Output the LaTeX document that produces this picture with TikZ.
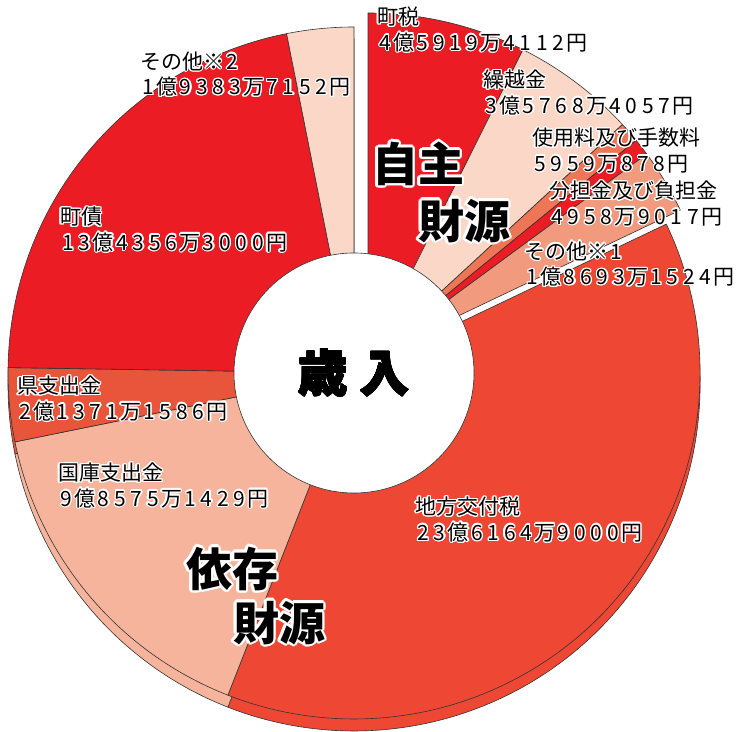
\documentclass[tikz,border=0pt]{standalone}
\usepackage{fontspec}
\usepackage{contour}
\newfontfamily\jp{Noto Sans CJK JP}
\newfontfamily\jpbig{Noto Sans CJK JP}
\contourlength{1.3pt}
\newlength\digitw
\setlength\digitw{16.4pt}
\makeatletter
\def\digitone#1{\in@{#1}{0123456789}\ifin@\makebox[\digitw]{#1}\else#1\fi}
\makeatother
\def\digitstep#1{\ifx#1\relax\else\digitone{#1}\expandafter\digitstep\fi}
\protected\def\digitrun#1{\digitstep#1\relax}
\newcommand\twolines[2]{\contour{white}{\digitrun{#1}}\\\contour{white}{\digitrun{#2}}}
\definecolor{zeired}{HTML}{EC1C24}
\definecolor{peach}{HTML}{FBD7C7}
\definecolor{feeorange}{HTML}{EC7656}
\definecolor{othersalmon}{HTML}{F29A7E}
\definecolor{kofured}{HTML}{EE4835}
\definecolor{kokkopink}{HTML}{F6B49D}
\definecolor{kenred}{HTML}{E9553A}

\begin{document}
\begin{tikzpicture}[x=1pt,y=1pt,
        slice/.style={draw=black!80,line width=0.6pt},
        lbl/.style={font=\jp\fontsize{21}{25.5}\selectfont,align=left,anchor=west,inner sep=0pt},
        big/.style={font=\jpbig\bfseries\fontsize{46}{50}\selectfont,inner sep=0pt}]

    \useasboundingbox (0,0) rectangle (736,731);
    \fill[white] (0,0) rectangle (736,731);
    \coordinate (dep) at (354,358);
    \coordinate (own) at (368,372);

    % side of the dependent part
    \foreach \a/\b/\c in {25.495/-111.379/kofured,-111.379/-168.510/kokkopink,-168.510/-180.896/kenred,
            -180.896/-258.765/zeired,-258.765/-270/peach}
        \filldraw[slice,fill=\c] ([yshift=-12pt]dep) -- ++(\a:346) arc[start angle=\a,end angle=\b,radius=346] -- cycle;

    % dependent part
    \foreach \a/\b/\c in {25.495/-111.379/kofured,-111.379/-168.510/kokkopink,-168.510/-180.896/kenred,
            -180.896/-258.765/zeired,-258.765/-270/peach}
        \filldraw[slice,fill=\c] (dep) -- ++(\a:346) arc[start angle=\a,end angle=\b,radius=346] -- cycle;

    % own part, pulled out
    \foreach \a/\b/\c in {90/63.387/zeired,63.387/42.657/peach,42.657/39.203/feeorange,
            39.203/36.329/zeired,36.329/25.495/othersalmon}
        \filldraw[slice,fill=\c] (own) -- ++(\a:346) arc[start angle=\a,end angle=\b,radius=346] -- cycle;

    \filldraw[slice,fill=white] (dep) circle[radius=120];

    \node[lbl] (machizei) at (377,701) {\twolines{町税}{4億5919万4112円}};
    \node[lbl] (kurikoshi) at (483,638) {\twolines{繰越金}{3億5768万4057円}};
    \node[lbl] (shiyoryo) at (532,580) {\twolines{使用料及び手数料}{5959万878円}};
    \node[lbl] (buntan) at (549,527) {\twolines{分担金及び負担金}{4958万9017円}};
    \node[lbl] (sonota1) at (524,466.5) {\twolines{その他※1}{1億8693万1524円}};
    \node[lbl] (kofu) at (415,211) {\twolines{地方交付税}{23億6164万9000円}};
    \node[lbl] (kokko) at (58,245) {\twolines{国庫支出金}{9億8575万1429円}};
    \node[lbl] (ken) at (17,332) {\twolines{県支出金}{2億1371万1586円}};
    \node[lbl] (machisai) at (60,501) {\twolines{町債}{13億4356万3000円}};
    \node[lbl] (sonota2) at (140,656.5) {\twolines{その他※2}{1億9383万7152円}};

    \contourlength{2.5pt}
    \node[big] (jishu) at (418,566) {\contour{white}{自主}};
    \node[big] (zaigen1) at (464,509) {\contour{white}{財源}};
    \node[big] (izon) at (232,161) {\contour{white}{依存}};
    \node[big] (zaigen2) at (279,107) {\contour{white}{財源}};
    \contourlength{0.4pt}
    \node[big,font=\jpbig\bfseries\fontsize{50}{56}\selectfont] (sainyu) at (dep) {\contour{black}{歳 入}};
\end{tikzpicture}
\end{document}
